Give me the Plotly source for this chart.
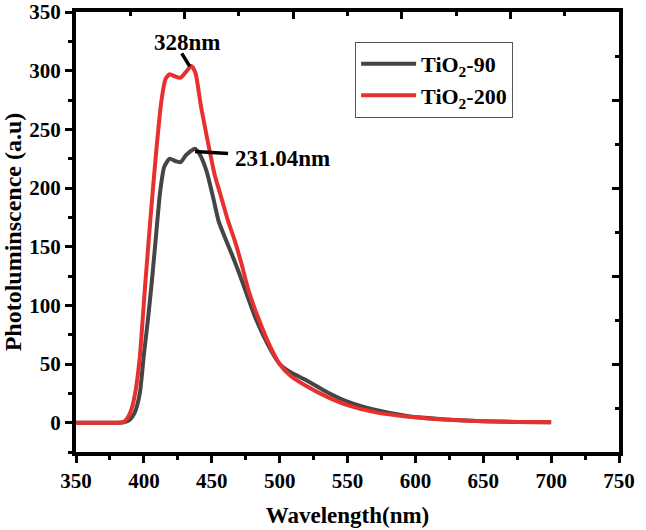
import plotly.graph_objects as go

# Data
wl_200 = [350, 380, 385, 388, 391, 394, 397, 401, 405, 409, 413, 416, 419, 423, 427, 431, 435, 438, 442, 447, 452, 457, 462, 467, 472, 477, 485, 493, 500, 508, 520, 535, 550, 570, 595, 620, 650, 675, 700]
pl_200 = [0, 0, 0.5, 4, 12, 28, 56, 118, 176, 230, 275, 293, 297, 295, 294, 299, 304, 298, 270, 240, 212, 192, 172, 155, 135, 113, 87, 65, 50, 40, 31, 22, 15, 9, 5, 2.8, 1.2, 0.6, 0.3]

wl_90 = [350, 380, 385, 389, 393, 397, 400, 403, 406, 409, 412, 415, 419, 423, 427, 431, 434, 437.5, 441, 446, 451, 455, 460, 465, 470, 475, 483, 492, 500, 508, 520, 535, 550, 570, 595, 620, 650, 675, 700]
pl_90 = [0, 0, 0.3, 2, 8, 25, 58, 88, 122, 160, 197, 218, 225, 223, 222, 228, 231, 233.5, 229, 215, 192, 172, 157, 143, 128, 112, 87, 65, 50, 43, 36, 26, 18, 11, 5.5, 3, 1.3, 0.6, 0.3]

series_names = ["TiO<sub>2</sub>-90", "TiO<sub>2</sub>-200"]
series_colors = ["#454545", "#e8312f"]

x_ticks = [350, 400, 450, 500, 550, 600, 650, 700, 750]
y_ticks = [0, 50, 100, 150, 200, 250, 300, 350]

peak_labels = ["328nm", "231.04nm"]
peak_label_pos = [(431.8, 324), (466.0, 225)]
pointer_lines = [((427.9, 314.8), (433.8, 303.7)), ((437.7, 231.1), (462.0, 229.4))]

FONT = "Liberation Serif, Times New Roman, serif"

fig = go.Figure()
fig.add_trace(go.Scatter(x=wl_90, y=pl_90, mode="lines", name=series_names[0],
                         line=dict(color=series_colors[0], width=4, shape="spline", smoothing=0.6)))
fig.add_trace(go.Scatter(x=wl_200, y=pl_200, mode="lines", name=series_names[1],
                         line=dict(color=series_colors[1], width=4, shape="spline", smoothing=0.6)))
fig.add_trace(go.Scatter(x=[None], y=[None], xaxis="x2", yaxis="y2", showlegend=False, hoverinfo="skip"))

for (x0, y0), (x1, y1) in pointer_lines:
    fig.add_shape(type="line", x0=x0, y0=y0, x1=x1, y1=y1, xref="x", yref="y",
                  line=dict(color="black", width=3.5))

fig.add_annotation(x=peak_label_pos[0][0], y=peak_label_pos[0][1], text=peak_labels[0], showarrow=False,
                   xanchor="center", yanchor="middle", font=dict(family=FONT, size=23, color="black", weight="bold"))
fig.add_annotation(x=peak_label_pos[1][0], y=peak_label_pos[1][1], text=peak_labels[1], showarrow=False,
                   xanchor="left", yanchor="middle", font=dict(family=FONT, size=23, color="black", weight="bold"))

tickfont = dict(family=FONT, size=21, color="black", weight="bold")

fig.update_layout(
    width=646, height=530,
    margin=dict(l=76, r=27, t=12, b=78, autoexpand=False),
    paper_bgcolor="white", plot_bgcolor="white",
    showlegend=True,
    legend=dict(x=0.514, y=0.932, xanchor="left", yanchor="top",
                bordercolor="#555555", borderwidth=1, bgcolor="white",
                font=dict(family=FONT, size=22, color="black", weight="bold"),
                itemwidth=55, tracegroupgap=2),
    xaxis=dict(range=[350, 750], tickvals=x_ticks, ticks="outside", ticklen=7, tickwidth=3,
               tickcolor="black", showline=True, linecolor="black", linewidth=4, mirror=True,
               showgrid=False, zeroline=False, tickfont=tickfont, automargin=False,
               minor=dict(ticks="outside", ticklen=4, tickwidth=3, dtick=25, tick0=350, tickcolor="black", showgrid=False),
               title=dict(text="Wavelength(nm)", font=dict(family=FONT, size=23, color="black", weight="bold"), standoff=16)),
    yaxis=dict(range=[-25, 350], tickvals=y_ticks, ticks="outside", ticklen=7, tickwidth=3,
               tickcolor="black", showline=True, linecolor="black", linewidth=4, mirror=True,
               showgrid=False, zeroline=False, tickfont=tickfont, automargin=False,
               minor=dict(ticks="outside", ticklen=4, tickwidth=3, dtick=25, tick0=0, tickcolor="black", showgrid=False),
               title=dict(text="Photoluminscence (a.u)", font=dict(family=FONT, size=24, color="black", weight="bold"), standoff=2)),
    xaxis2=dict(range=[350, 750], overlaying="x", side="top", anchor="y", matches="x",
                tick0=350, dtick=80, ticks="inside", ticklen=7, tickwidth=3, tickcolor="black",
                showticklabels=False, showgrid=False, zeroline=False, showline=False, automargin=False,
                minor=dict(ticks="inside", ticklen=4, tickwidth=3, dtick=40, tick0=350, tickcolor="black", showgrid=False)),
    yaxis2=dict(range=[-25, 350], overlaying="y", side="right", anchor="x", matches="y",
                tick0=-25, dtick=75, ticks="inside", ticklen=7, tickwidth=3, tickcolor="black",
                showticklabels=False, showgrid=False, zeroline=False, showline=False, automargin=False,
                minor=dict(ticks="inside", ticklen=4, tickwidth=3, dtick=37.5, tick0=-25, tickcolor="black", showgrid=False)),
)

fig.write_html("out.html", config={"displayModeBar": False},
               post_script="document.body.style.margin='0px';")
